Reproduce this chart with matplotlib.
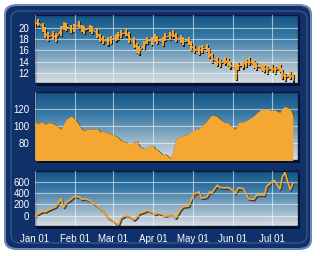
import matplotlib
matplotlib.use('Agg')
import matplotlib.pyplot as plt
import matplotlib.dates as mdates
import matplotlib.transforms as mtransforms
from matplotlib.patches import FancyBboxPatch
import numpy as np
import pandas as pd

# every second business day, Jan 1 .. Jul 21
dates = pd.bdate_range('2008-01-01', '2008-07-21')[::2][:72]

close = [20.6, 21.0, 20.2, 19.0, 18.4, 18.8, 18.2, 19.6, 20.4, 20.2,
         19.8, 20.0, 20.6, 19.9, 19.6, 20.0, 19.7, 19.0, 18.2, 17.8,
         17.6, 17.9, 18.3, 18.6, 18.9, 19.2, 18.4, 17.3, 16.4, 16.0,
         16.9, 17.8, 17.6, 18.2, 17.9, 17.5, 18.4, 18.6, 19.0, 18.3,
         18.0, 17.6, 17.7, 16.8, 16.3, 15.9, 16.2, 16.5, 15.6, 14.6,
         14.0, 13.8, 14.2, 13.9, 13.5, 12.6, 13.2, 13.5, 13.8, 14.1,
         13.6, 13.3, 13.0, 12.8, 12.6, 12.9, 12.5, 13.0, 11.7, 11.3,
         11.6, 11.2]
high = [21.3, 21.6, 20.9, 20.1, 19.2, 19.5, 19.1, 20.3, 21.0, 20.9,
        20.5, 20.7, 21.2, 20.6, 20.3, 20.6, 20.4, 19.8, 19.0, 18.5,
        18.3, 18.6, 19.0, 19.3, 19.6, 19.8, 19.3, 18.3, 17.3, 16.8,
        17.6, 18.4, 18.3, 18.9, 18.6, 18.3, 19.1, 19.3, 19.6, 19.1,
        18.7, 18.3, 18.4, 17.6, 17.0, 16.7, 16.9, 17.2, 16.5, 15.5,
        14.8, 14.5, 14.9, 14.6, 14.2, 13.5, 13.9, 14.2, 14.5, 14.8,
        14.3, 14.0, 13.7, 13.5, 13.3, 13.6, 13.2, 13.7, 12.8, 12.0,
        12.3, 11.9]
low = [19.9, 20.3, 19.3, 18.2, 17.7, 18.0, 17.5, 18.6, 19.7, 19.5,
       19.1, 19.3, 19.9, 19.2, 18.9, 19.3, 19.0, 18.2, 17.5, 17.1,
       16.9, 17.2, 17.6, 17.9, 18.2, 18.5, 17.4, 16.4, 15.5, 15.3,
       16.1, 17.1, 16.9, 17.5, 17.2, 16.8, 17.7, 17.9, 18.3, 17.5,
       17.3, 16.9, 17.0, 16.0, 15.6, 15.2, 15.5, 15.8, 14.7, 13.8,
       13.3, 13.1, 13.5, 13.2, 12.8, 10.8, 12.5, 12.8, 13.1, 13.4,
       12.9, 12.6, 12.3, 12.1, 11.9, 12.2, 11.8, 12.1, 10.9, 10.6,
       10.9, 10.5]

area = [106, 103, 105, 102, 104, 103, 101, 96, 103, 108,
        112, 109, 101, 96, 95, 97, 96, 97, 93, 94,
        92, 91, 88, 86, 83, 81, 79, 81, 82, 76,
        73, 75, 78, 73, 72, 66, 67, 62, 70, 84,
        88, 89, 91, 94, 95, 97, 100, 106, 110, 113,
        111, 108, 104, 104, 101, 96, 104, 105, 106, 108,
        112, 115, 120, 119, 120, 118, 119, 116, 121, 123,
        120, 113]

line = [0, 30, 80, 70, 100, 140, 160, 300, 150, 230,
        300, 340, 330, 290, 300, 270, 230, 170, 130, 90,
        -30, -60, -130, -160, -40, 10, 0, -70, -30, 40,
        70, 100, 60, 20, 50, 20, 0, 20, 10, -40,
        120, 160, 170, 280, 380, 420, 310, 330, 420, 410,
        540, 500, 490, 500, 480, 400, 490, 480, 400, 300,
        290, 360, 370, 360, 520, 600, 620, 470, 690, 760,
        460, 570]

top_ticks = [12, 14, 16, 18, 20]
mid_ticks = [80, 100, 120]
bot_ticks = [0, 200, 400, 600]

orange = '#f5a733'
shadow = '#1a1f2a'
navy = '#10306a'

plt.rcParams['font.family'] = ['Liberation Sans', 'DejaVu Sans']

fig = plt.figure(figsize=(3.2, 2.56), dpi=100)
fig.patch.set_facecolor('white')

# outer frame
frame = FancyBboxPatch((4 / 320, 6 / 256), 308 / 320, 246 / 256,
                       boxstyle='round,pad=0,rounding_size=0.04',
                       transform=fig.transFigure, facecolor='#6f88b0',
                       edgecolor='none', zorder=-5)
fig.patches.append(frame)
inner = FancyBboxPatch((6 / 320, 8 / 256), 304 / 320, 242 / 256,
                       boxstyle='round,pad=0,rounding_size=0.035',
                       transform=fig.transFigure, facecolor=navy,
                       edgecolor='none', zorder=-4)
fig.patches.append(inner)
ring = FancyBboxPatch((11 / 320, 13 / 256), 296 / 320, 232 / 256,
                      boxstyle='round,pad=0,rounding_size=0.03',
                      transform=fig.transFigure, facecolor='none',
                      edgecolor='#2d4f88', linewidth=1.2, zorder=-3)
fig.patches.append(ring)

grad = np.linspace(0, 1, 256).reshape(-1, 1)
cmap = matplotlib.colors.LinearSegmentedColormap.from_list(
    'bg', ['#d9dde0', '#8fb0c6', '#3a7aa6', '#145485'])

x0 = mdates.date2num(pd.Timestamp('2008-01-01'))
x1 = mdates.date2num(pd.Timestamp('2008-07-21'))


def make_ax(rect, ylim, ticks):
    ax = fig.add_axes(rect)
    ax.imshow(grad, cmap=cmap, aspect='auto', origin='lower',
              extent=[0, 1, 0, 1], transform=ax.transAxes, zorder=0)
    ax.set_xlim(x0, x1)
    ax.set_ylim(*ylim)
    ax.set_yticks(ticks)
    ax.xaxis.set_major_locator(mdates.MonthLocator())
    ax.xaxis.set_major_formatter(mdates.DateFormatter('%b %d'))
    ax.grid(True, color='white', alpha=0.55, linewidth=0.8, zorder=1)
    ax.set_axisbelow(False)
    ax.tick_params(length=0, colors='white', labelsize=7, pad=4)
    for s in ax.spines.values():
        s.set_color('#0a1630')
        s.set_linewidth(1.0)
    # drop shadow
    sh = FancyBboxPatch((rect[0] + 2 / 320, rect[1] - 3 / 256), rect[2], rect[3],
                        boxstyle='square,pad=0', transform=fig.transFigure,
                        facecolor='#06102a', edgecolor='none', zorder=-1)
    fig.patches.append(sh)
    return ax


ax1 = make_ax([35 / 320, 1 - 83 / 256, 263 / 320, 68 / 256], (10.2, 22.3), top_ticks)
ax2 = make_ax([35 / 320, 1 - 160 / 256, 263 / 320, 68 / 256], (60, 140), mid_ticks)
ax3 = make_ax([35 / 320, 1 - 226 / 256, 263 / 320, 55 / 256], (-180, 790), bot_ticks)
ax1.tick_params(labelbottom=False)
ax2.tick_params(labelbottom=False)

xd = mdates.date2num(dates)
off1 = mtransforms.offset_copy(ax1.transData, fig=fig, x=1, y=-1.2, units='dots')
ax1.vlines(xd, low, high, color=shadow, linewidth=1.5, transform=off1, zorder=2)
ax1.plot(xd, close, color=shadow, linewidth=1.0, transform=off1, zorder=2)
ax1.vlines(xd, low, high, color=orange, linewidth=1.4, zorder=3)
ax1.plot(xd, close, color=orange, linewidth=0.9, zorder=3)

ax2.fill_between(xd, area, 0, color=orange, linewidth=0, zorder=3)
off2 = mtransforms.offset_copy(ax2.transData, fig=fig, x=1, y=-1, units='dots')
ax2.plot(xd, area, color='#5a4a30', linewidth=1.0, transform=off2, zorder=2)

off3 = mtransforms.offset_copy(ax3.transData, fig=fig, x=1, y=-1.2, units='dots')
ax3.plot(xd, line, color='#333b48', linewidth=1.3, transform=off3, zorder=2)
ax3.plot(xd, line, color=orange, linewidth=1.2, zorder=3)
ax3.tick_params(axis='x', pad=6)

fig.savefig('out.png', dpi=100, facecolor='white')
